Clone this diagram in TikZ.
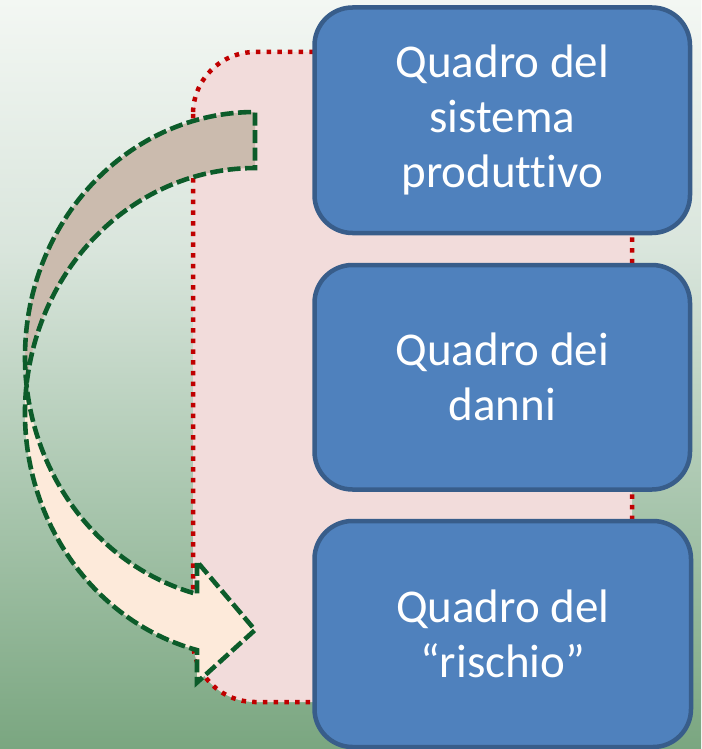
\documentclass[tikz,border=0pt]{standalone}
\usepackage{fontspec}
\setmainfont{Carlito}[Ligatures={NoCommon}]
\definecolor{bgA}{RGB}{243,247,243}
\definecolor{bgB}{RGB}{217,229,220}
\definecolor{bgC}{RGB}{169,198,174}
\definecolor{bgD}{RGB}{122,166,128}
\definecolor{pinkfill}{RGB}{242,220,219}
\definecolor{dotred}{RGB}{192,0,0}
\definecolor{boxfill}{RGB}{79,129,189}
\definecolor{boxline}{RGB}{56,93,138}
\definecolor{frontfill}{RGB}{253,234,218}
\definecolor{backfill}{RGB}{203,187,174}
\definecolor{arrgreen}{RGB}{12,92,42}
\pgfdeclareverticalshading{bgshade}{100bp}{color(0bp)=(bgD); color(25bp)=(bgD); color(41.62bp)=(bgC); color(58.31bp)=(bgB); color(75bp)=(bgA); color(100bp)=(bgA)}
\begin{document}
\begin{tikzpicture}[x=1pt,y=1pt,
  box/.style={draw=boxline, fill=boxfill, line width=4.5pt, rounded corners=38pt,
    text=white, align=center, font=\fontsize{47}{55}\selectfont, inner sep=0pt},
  frame/.style={draw=dotred, fill=pinkfill, line width=4.5pt,
    dash pattern=on 4.5pt off 6.2pt, rounded corners=62pt},
  arrowline/.style={draw=arrgreen, line width=4.6pt, dash pattern=on 13pt off 4.5pt, line join=miter},
  ell/.style={x radius=230pt, y radius=245pt}]
\useasboundingbox (0,0) rectangle (701,-749);
\fill[shading=bgshade] (0,0) rectangle (701,-749);
% background frame
\draw[frame] (193,-52) rectangle (632,-702);
% curved arrow: front part
\fill[frontfill] (25,-357) arc[start angle=180, end angle=255.39, ell]
  -- (197,-561.5) -- (255,-630) -- (197,-682.5) -- (197,-650.1)
  arc[start angle=255.39, end angle=180, ell] -- cycle;
% curved arrow: back part
\fill[backfill] (255,-168) arc[start angle=90, end angle=173.44, ell]
  arc[start angle=186.56, end angle=90, ell] -- cycle;
% curved arrow: outline
\draw[arrowline] (25,-357) arc[start angle=180, end angle=255.39, ell]
  -- (197,-561.5) -- (255,-630) -- (197,-682.5) -- (197,-650.1)
  arc[start angle=255.39, end angle=90, ell] -- (255,-112)
  arc[start angle=90, end angle=180, ell] -- cycle;
% boxes
\node[box, minimum width=375.5pt, minimum height=225.5pt] (b1) at (502.25,-120.25) {Quadro del\\sistema\\produttivo};
\node[box, minimum width=375.5pt, minimum height=224.5pt] (b2) at (502.25,-377.25) {Quadro dei\\danni};
\node[box, minimum width=376.5pt, minimum height=226pt] (b3) at (502.75,-634) {Quadro del\\“rischio”};
\end{tikzpicture}
\end{document}
